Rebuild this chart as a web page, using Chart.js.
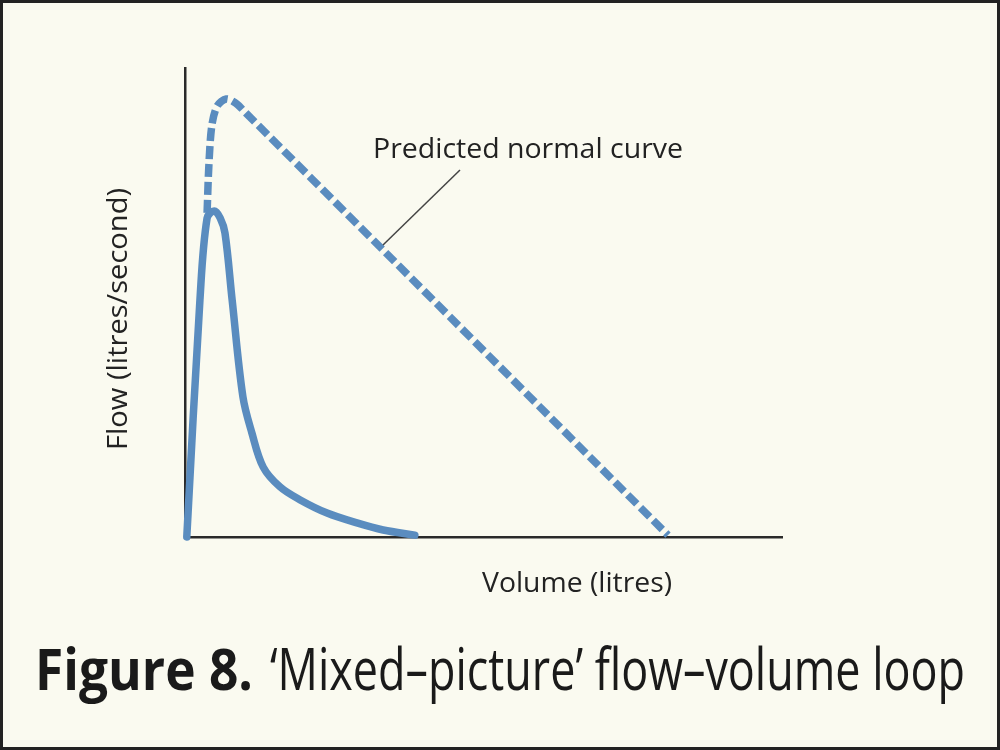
<!DOCTYPE html>
<html lang="en">
<head>
<meta charset="UTF-8" />
<title>Figure 8 - Mixed-picture flow-volume loop</title>
<style>
  body { margin: 0; background: #fafaf0; }
  #wrap { width: 1000px; height: 750px; }
</style>
</head>
<body>
<div id="wrap"><canvas id="chart" width="1000" height="750"></canvas></div>

<script src="https://cdn.jsdelivr.net/npm/chart.js"></script>
<script>
  // measured curve (volume, flow) in arbitrary units 0..10
  const measuredVolume = [0.03, 0.25, 0.37, 0.49, 0.59, 0.67, 0.79, 0.97, 1.12, 1.31, 1.59, 1.93, 2.38, 2.88, 3.32, 3.85];
  const measuredFlow   = [0.00, 5.05, 6.80, 6.95, 6.80, 6.48, 5.05, 2.99, 2.22, 1.49, 1.07, 0.79, 0.51, 0.30, 0.15, 0.04];

  // predicted normal curve (dashed)
  const predictedVolume = [0.37, 0.40, 0.45, 0.54, 0.69, 0.85, 1.02, 3.27, 8.09];
  const predictedFlow   = [6.91, 7.93, 8.78, 9.19, 9.34, 9.25, 9.04, 6.18, 0.04];

  const yTitle = "Flow (litres/second)";
  const xTitle = "Volume (litres)";
  const noteText = "Predicted normal curve";
  const captionBold = "Figure 8.";
  const captionRest = "\u2018Mixed\u2013picture\u2019 flow\u2013volume loop";

  const blue = "#5a8cbf";

  function toPoints(xs, ys) {
    return xs.map((x, i) => ({ x: x, y: ys[i] }));
  }

  // draw text squeezed/stretched to a given width
  function fitText(ctx, text, x, y, w, font) {
    ctx.save();
    ctx.font = font;
    const m = ctx.measureText(text).width;
    ctx.translate(x, y);
    ctx.scale(w / m, 1);
    ctx.fillText(text, 0, 0);
    ctx.restore();
  }

  const decor = {
    id: "decor",
    beforeDraw(chart) {
      const ctx = chart.ctx;
      ctx.save();
      ctx.fillStyle = "#fafaf0";
      ctx.fillRect(0, 0, 1000, 750);
      ctx.strokeStyle = "#222";
      ctx.lineWidth = 3;
      ctx.strokeRect(1.5, 1.5, 997, 747);
      ctx.restore();
    },
    afterDraw(chart) {
      const ctx = chart.ctx;
      ctx.save();
      ctx.fillStyle = "#222";
      ctx.textBaseline = "alphabetic";
      const f = "28px 'Open Sans', sans-serif";

      fitText(ctx, noteText, 373, 158, 310, f);
      fitText(ctx, xTitle, 482, 592, 190, f);

      // y title, rotated
      ctx.save();
      ctx.translate(127, 450);
      ctx.rotate(-Math.PI / 2);
      fitText(ctx, yTitle, 0, 0, 262, f);
      ctx.restore();

      // leader line to dashed curve
      ctx.strokeStyle = "#444";
      ctx.lineWidth = 1.5;
      ctx.beginPath();
      ctx.moveTo(460, 170);
      ctx.lineTo(383, 245);
      ctx.stroke();

      // caption
      ctx.fillStyle = "#1a1a1a";
      fitText(ctx, captionBold, 35, 690, 218, "bold 58px 'Open Sans', sans-serif");
      fitText(ctx, captionRest, 270, 690, 695, "58px 'Open Sans', sans-serif");
      ctx.restore();
    }
  };

  new Chart(document.getElementById("chart"), {
    type: "line",
    data: {
      datasets: [
        {
          label: "Measured",
          data: toPoints(measuredVolume, measuredFlow),
          borderColor: blue,
          borderWidth: 7.5,
          pointRadius: 0,
          tension: 0.35,
          borderCapStyle: "round",
          clip: false
        },
        {
          label: "Predicted normal curve",
          data: toPoints(predictedVolume, predictedFlow),
          borderColor: blue,
          borderWidth: 7.5,
          borderDash: [13, 5],
          pointRadius: 0,
          tension: 0.3,
          clip: false
        }
      ]
    },
    options: {
      responsive: false,
      animation: false,
      devicePixelRatio: 1,
      layout: { padding: { left: 185, top: 68, right: 218, bottom: 213 } },
      plugins: {
        legend: { display: false },
        tooltip: { enabled: false }
      },
      scales: {
        x: {
          type: "linear",
          min: 0, max: 10,
          grid: { display: false },
          ticks: { display: false },
          border: { display: true, color: "#2a2a2a", width: 2.5 },
          afterFit(s) { s.height = 0; }
        },
        y: {
          min: 0, max: 10,
          grid: { display: false },
          ticks: { display: false },
          border: { display: true, color: "#2a2a2a", width: 2.5 },
          afterFit(s) { s.width = 0; }
        }
      }
    },
    plugins: [decor]
  });
</script>
</body>
</html>
